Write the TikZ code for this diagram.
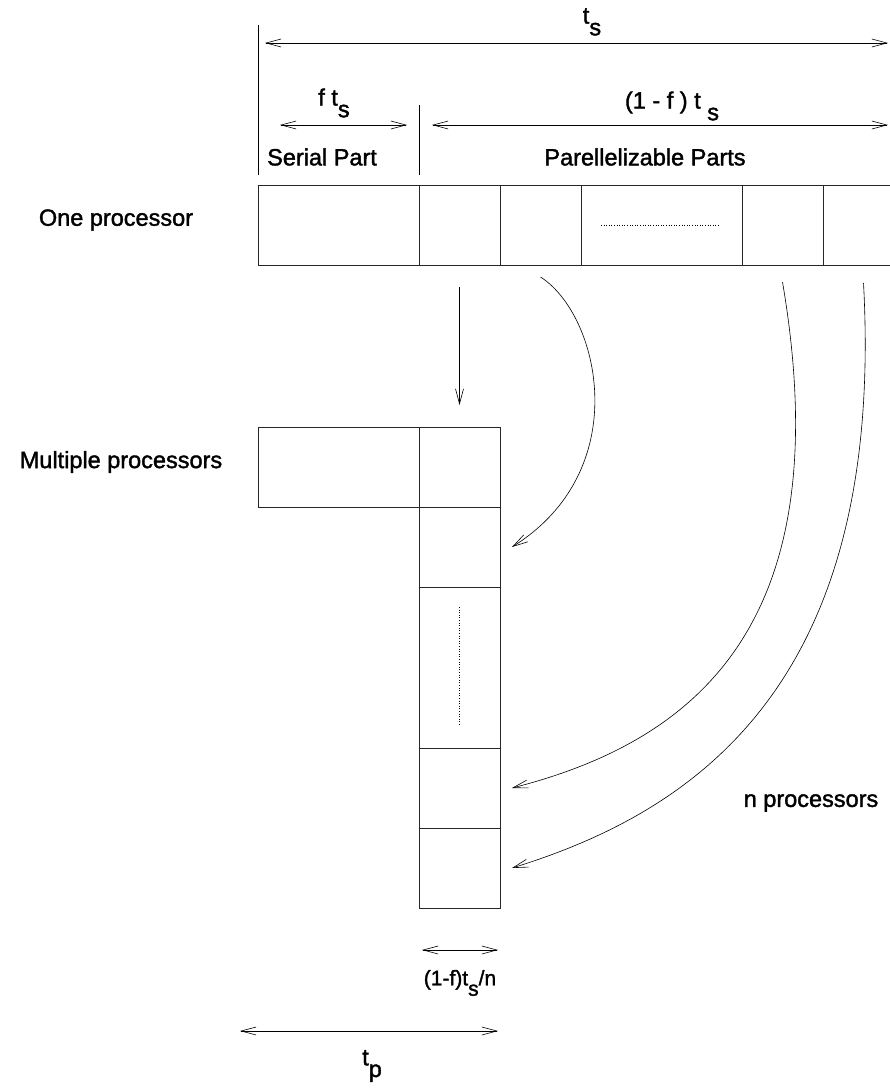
\documentclass[tikz,border=0pt]{standalone}
\usepackage{fontspec}
\setmainfont{Liberation Sans}[FakeBold=1.6]
\usetikzlibrary{arrows.meta, positioning}

\newcommand{\lowr}[1]{\raisebox{-0.5em}{#1}}

\begin{document}
\begin{tikzpicture}[x=1pt, y=-1pt, >={Straight Barb[length=15pt,width=8pt]},
    cell/.style={draw=black!85, line width=0.9pt, minimum height=80pt, inner sep=0pt, outer sep=0pt},
    wide/.style={cell, minimum width=161pt},
    narrow/.style={cell, minimum width=81pt},
    span/.style={<->, line width=0.6pt},
    flow/.style={->, line width=0.6pt},
    lbl/.style={font=\fontsize{23.5}{27}\selectfont, inner sep=0pt}]
    \useasboundingbox (0,0) rectangle (890,1089);

    % one processor
    \node[wide, anchor=north west] (serial) at (258,185) {};
    \node[narrow] (parA) [right=0pt of serial] {};
    \node[narrow] (parB) [right=0pt of parA] {};
    \node[wide] (parC) [right=0pt of parB] {};
    \node[narrow] (parD) [right=0pt of parC] {};
    \node[narrow] (parE) [right=0pt of parD] {};
    \draw[dotted, line width=0.6pt] ([xshift=20pt]parC.west) -- ([xshift=-23pt]parC.east);

    % multiple processors
    \node[wide, anchor=north west] (mserial) at (258,427) {};
    \node[narrow] (slot1) [right=0pt of mserial] {};
    \node[narrow] (slot2) [below=0pt of slot1] {};
    \node[narrow, minimum height=161pt] (slotdots) [below=0pt of slot2] {};
    \node[narrow] (slot3) [below=0pt of slotdots] {};
    \node[narrow] (slot4) [below=0pt of slot3] {};
    \draw[dotted, line width=0.6pt] ([yshift=-20pt]slotdots.north) -- ([yshift=23pt]slotdots.south);

    % dimensions on top
    \draw[line width=0.6pt] ([yshift=10pt]serial.north west) -- ++(0,-150);
    \draw[line width=0.6pt] ([yshift=10pt]serial.north east) -- ++(0,-70);
    \coordinate (tsL) at (265,43);
    \coordinate (tsR) at (888,43);
    \draw[span] (tsL) -- (tsR);
    \coordinate (ftL) at (280,125);
    \coordinate (ftR) at (407,125);
    \draw[span] (ftL) -- (ftR);
    \coordinate (pfL) at (432,125);
    \coordinate (pfR) at (888,125);
    \draw[span] (pfL) -- (pfR);

    \node[lbl] (ts) at (592,22) {t\lowr{s}};
    \node[lbl] (fts) at (334,103) {f t\lowr{s}};
    \node[lbl] (pts) at (672,106) {(1 - f ) t \lowr{s}};
    \node[lbl, anchor=west] (serlbl) at (267,157) {Serial Part};
    \node[lbl] (parlbl) at (645,157) {Parellelizable Parts};
    \node[lbl] (one) at (116,220) {One processor};
    \node[lbl] (multi) at (121,462) {Multiple processors};
    \node[lbl] (nproc) at (811,803) {n processors};

    % moving the parts
    \draw[flow] ([yshift=-22pt]parA.south) -- ([yshift=22pt]slot1.north);
    \draw[flow] ([yshift=-12pt]parB.south) .. controls (600,315) and (635,470) .. ([xshift=12pt]slot2.east);
    \draw[flow] ([yshift=-17pt]parD.south) .. controls (840,620) and (700,740) .. ([xshift=12pt]slot3.east);
    \draw[flow] ([yshift=-18pt]parE.south) .. controls (885,680) and (700,810) .. ([xshift=12pt]slot4.east);

    % dimensions at the bottom
    \draw[span] ([shift={(3pt,-42pt)}]slot4.south west) -- ([shift={(-2pt,-42pt)}]slot4.south east);
    \node[lbl, font=\fontsize{21}{24}\selectfont] (tsn) at (460,983) {(1-f)t\lowr{s}/n};
    \coordinate (tpL) at (240,1031);
    \draw[span] (tpL) -- ([shift={(-2pt,-123pt)}]slot4.south east);
    \node[lbl] (tp) at (372,1066) {t\lowr{p}};
\end{tikzpicture}
\end{document}
